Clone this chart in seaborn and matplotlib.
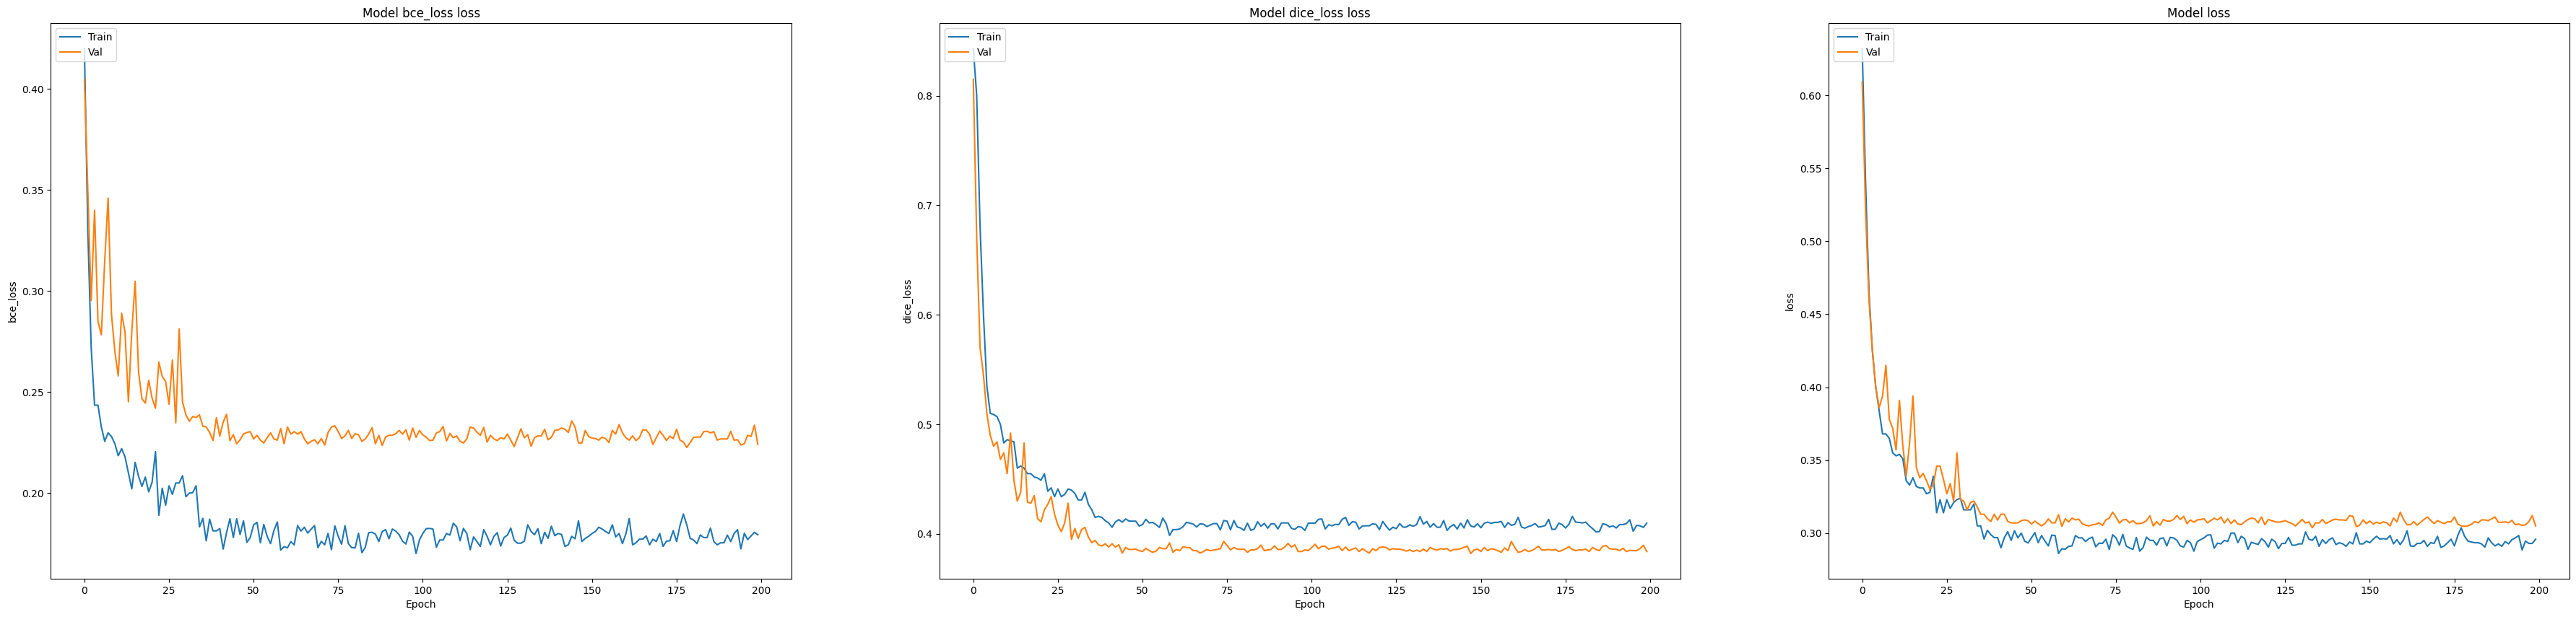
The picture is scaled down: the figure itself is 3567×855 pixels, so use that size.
import matplotlib
matplotlib.use('Agg')
import matplotlib.pyplot as plt
import seaborn as sns

# История обучения: 200 эпох
epochs = list(range(200))

bce_train = [
    .420, .330, .272, .2435, .2435, .2327, .2256, .2298, .2280, .2244,
    .2185, .2220, .2179, .2100, .2021, .2152, .2083, .2033, .2079, .2006,
    .2054, .2205, .1890, .2024, .1940, .2036, .1994, .2050, .2050, .2086,
    .1982, .2000, .2002, .2036, .1833, .1875, .1764, .1871, .1813, .1813,
    .1824, .1723, .1804, .1873, .1780, .1873, .1795, .1863, .1756, .1780,
    .1843, .1855, .1754, .1845, .1786, .1750, .1815, .1857, .1718, .1735,
    .1729, .1760, .1744, .1839, .1812, .1831, .1802, .1822, .1839, .1730,
    .1761, .1744, .1800, .1720, .1838, .1786, .1747, .1839, .1750, .1730,
    .1729, .1801, .1705, .1732, .1804, .1806, .1797, .1760, .1810, .1819,
    .1774, .1822, .1812, .1794, .1762, .1748, .1807, .1786, .1701, .1768,
    .1800, .1824, .1825, .1822, .1732, .1768, .1768, .1800, .1792, .1851,
    .1833, .1764, .1825, .1800, .1720, .1783, .1760, .1736, .1819, .1786,
    .1744, .1786, .1804, .1738, .1780, .1792, .1827, .1766, .1752, .1752,
    .1762, .1843, .1810, .1794, .1824, .1750, .1806, .1776, .1836, .1789,
    .1800, .1795, .1736, .1744, .1786, .1774, .1863, .1760, .1776, .1786,
    .1800, .1810, .1831, .1822, .1810, .1800, .1843, .1783, .1800, .1750,
    .1798, .1874, .1744, .1754, .1772, .1772, .1788, .1744, .1772, .1760,
    .1800, .1736, .1762, .1764, .1814, .1760, .1839, .1896, .1843, .1776,
    .1768, .1750, .1793, .1780, .1780, .1827, .1760, .1744, .1754, .1754,
    .1792, .1760, .1800, .1819, .1724, .1801, .1770, .1788, .1806, .1794,
]

bce_val = [
    .4046, .350, .2953, .340, .285, .2784, .315, .346, .2884, .270,
    .258, .289, .2797, .2452, .280, .3048, .260, .2467, .2445, .2558,
    .247, .242, .2648, .2577, .2552, .244, .2658, .2348, .2812, .245,
    .2387, .2355, .2379, .2374, .2387, .2331, .2327, .2300, .2260, .2373,
    .2282, .2351, .2390, .2260, .2289, .2244, .2264, .2292, .2300, .2304,
    .2268, .2286, .2262, .2248, .2274, .2298, .2268, .2262, .2319, .2244,
    .2327, .2292, .2304, .2292, .2304, .2268, .2244, .2256, .2264, .2244,
    .2270, .2238, .2300, .2327, .2333, .2304, .2270, .2283, .2310, .2270,
    .2294, .2288, .2256, .2268, .2292, .2324, .2244, .2286, .2236, .2277,
    .2286, .2286, .2294, .2310, .2292, .2313, .2262, .2322, .2276, .2310,
    .2288, .2277, .2260, .2262, .2298, .2304, .2330, .2258, .2295, .2274,
    .2283, .2256, .2248, .2268, .2327, .2322, .2301, .2286, .2325, .2252,
    .2286, .2268, .2260, .2274, .2268, .2292, .2262, .2230, .2274, .2318,
    .2274, .2289, .2232, .2274, .2283, .2283, .2316, .2264, .2276, .2310,
    .2313, .2322, .2316, .2300, .2357, .2327, .2248, .2248, .2310, .2280,
    .2272, .2270, .2262, .2277, .2270, .2250, .2310, .2292, .2339, .2298,
    .2274, .2262, .2283, .2260, .2274, .2313, .2312, .2292, .2241, .2274,
    .2307, .2286, .2260, .2282, .2270, .2316, .2262, .2252, .2226, .2250,
    .2276, .2277, .2277, .2304, .2306, .2298, .2304, .2262, .2268, .2268,
    .2268, .2306, .2262, .2264, .2238, .2244, .2286, .2280, .2336, .2241,
]

dice_train = [
    .843, .800, .680, .600, .535, .510, .509, .507, .500, .483,
    .486, .485, .484, .460, .462, .460, .455, .455, .452, .451,
    .449, .455, .439, .442, .434, .441, .434, .436, .441, .440,
    .437, .431, .431, .438, .427, .422, .415, .416, .415, .412,
    .410, .406, .411, .413, .4107, .4136, .4118, .4116, .4116, .4072,
    .4085, .4133, .4100, .4105, .4085, .4059, .4144, .4092, .3986, .4039,
    .4039, .4045, .4067, .4105, .4098, .4089, .4063, .4092, .4089, .4067,
    .4081, .4094, .4094, .4037, .4122, .4116, .4037, .4122, .4063, .4054,
    .4032, .4098, .4032, .4045, .4111, .4070, .4096, .4052, .4092, .4092,
    .4045, .4100, .4100, .4100, .4052, .4041, .4067, .4061, .4032, .4098,
    .4098, .4098, .4133, .4136, .4045, .4083, .4074, .4087, .4085, .4133,
    .4151, .4078, .4111, .4107, .4045, .4072, .4074, .4074, .4092, .4087,
    .4039, .4114, .4070, .4034, .4061, .4048, .4094, .4061, .4063, .4083,
    .4070, .4085, .4158, .4089, .4114, .4061, .4094, .4061, .4061, .4122,
    .4032, .4067, .4085, .4045, .4098, .4054, .4129, .4072, .4063, .4092,
    .4056, .4098, .4107, .4096, .4105, .4105, .4114, .4059, .4103, .4078,
    .4087, .4151, .4063, .4052, .4067, .4076, .4094, .4063, .4067, .4076,
    .4133, .4041, .4043, .4098, .4085, .4054, .4087, .4160, .4107, .4105,
    .4100, .4107, .4074, .4048, .4019, .4021, .4092, .4085, .4063, .4074,
    .4054, .4085, .4085, .4094, .4129, .4024, .4078, .4074, .4059, .4098,
]

dice_val = [
    .815, .670, .570, .545, .510, .490, .480, .484, .468, .474,
    .455, .492, .449, .430, .438, .483, .429, .428, .435, .414,
    .411, .422, .427, .434, .418, .408, .402, .410, .428, .395,
    .405, .396, .404, .406, .397, .392, .394, .390, .389, .391,
    .388, .391, .388, .390, .3825, .3876, .3858, .3858, .3861, .3847,
    .3839, .3869, .3847, .3832, .3843, .3876, .3865, .3865, .3918, .3832,
    .3858, .3847, .3883, .3876, .3874, .3847, .3847, .3825, .3839, .3858,
    .3847, .3852, .3858, .3865, .3931, .3894, .3854, .3876, .3861, .3858,
    .3861, .3832, .3854, .3854, .3865, .3898, .3847, .3854, .3858, .3891,
    .3858, .3858, .3880, .3913, .3880, .3900, .3839, .3839, .3854, .3847,
    .3876, .3905, .3865, .3887, .3887, .3861, .3869, .3876, .3887, .3847,
    .3880, .3847, .3861, .3872, .3839, .3865, .3843, .3825, .3865, .3847,
    .3876, .3880, .3876, .3854, .3865, .3861, .3861, .3854, .3843, .3854,
    .3839, .3852, .3839, .3861, .3839, .3876, .3861, .3852, .3865, .3861,
    .3865, .3843, .3858, .3858, .3865, .3878, .3887, .3821, .3854, .3861,
    .3839, .3876, .3847, .3865, .3858, .3847, .3832, .3872, .3847, .3931,
    .3876, .3832, .3839, .3858, .3839, .3847, .3865, .3887, .3854, .3854,
    .3858, .3852, .3858, .3839, .3850, .3865, .3883, .3858, .3847, .3854,
    .3854, .3861, .3839, .3876, .3858, .3847, .3887, .3894, .3865, .3861,
    .3861, .3847, .3869, .3839, .3850, .3847, .3847, .3865, .3896, .3839,
]

loss_train = [
    .632, .540, .465, .425, .400, .384, .368, .368, .365, .355,
    .353, .354, .351, .336, .333, .338, .332, .331, .331, .327,
    .328, .339, .314, .323, .314, .323, .317, .321, .323, .324,
    .316, .316, .316, .320, .305, .305, .296, .302, .299, .297,
    .297, .290, .297, .301, .2951, .3017, .2968, .3001, .2946, .2933,
    .2968, .3004, .2935, .2984, .2946, .2913, .2987, .2984, .2861, .2894,
    .2890, .2910, .2913, .2984, .2968, .2968, .2943, .2963, .2973, .2907,
    .2932, .2930, .2959, .2889, .2989, .2968, .2918, .2992, .2913, .2899,
    .2889, .2971, .2877, .2902, .2973, .2951, .2951, .2918, .2963, .2968,
    .2913, .2971, .2968, .2951, .2913, .2905, .2951, .2935, .2877, .2943,
    .2956, .2968, .2987, .2989, .2897, .2932, .2927, .2951, .2943, .3001,
    .3001, .2935, .2979, .2963, .2890, .2938, .2930, .2923, .2963, .2943,
    .2905, .2959, .2943, .2894, .2930, .2930, .2971, .2918, .2918, .2927,
    .2927, .3009, .2959, .2951, .2979, .2910, .2956, .2930, .2956, .2968,
    .2922, .2935, .2927, .2910, .2940, .2927, .3004, .2927, .2927, .2946,
    .2935, .2959, .2979, .2959, .2963, .2959, .2984, .2927, .2956, .2922,
    .2956, .3017, .2913, .2910, .2930, .2930, .2951, .2910, .2935, .2930,
    .2979, .2902, .2913, .2935, .2959, .2913, .2984, .3038, .2979, .2946,
    .2940, .2935, .2935, .2927, .2905, .2968, .2935, .2913, .2927, .2910,
    .2943, .2927, .2956, .2968, .2984, .2885, .2946, .2930, .2930, .2959,
]

loss_val = [
    .609, .520, .460, .425, .400, .386, .394, .415, .378, .372,
    .357, .391, .360, .339, .362, .394, .345, .338, .341, .336,
    .330, .333, .346, .346, .337, .327, .334, .322, .355, .323,
    .322, .316, .321, .322, .318, .313, .313, .310, .308, .313,
    .309, .313, .313, .308, .3071, .3070, .3071, .3086, .3091, .3086,
    .3063, .3083, .3066, .3050, .3066, .3098, .3071, .3071, .3127, .3047,
    .3099, .3078, .3103, .3091, .3096, .3066, .3055, .3050, .3058, .3061,
    .3071, .3053, .3091, .3104, .3144, .3111, .3070, .3091, .3094, .3071,
    .3086, .3066, .3066, .3071, .3086, .3119, .3050, .3079, .3055, .3094,
    .3083, .3083, .3094, .3121, .3094, .3116, .3066, .3091, .3075, .3091,
    .3094, .3099, .3071, .3086, .3103, .3091, .3111, .3070, .3099, .3066,
    .3091, .3063, .3058, .3078, .3094, .3103, .3099, .3071, .3111, .3058,
    .3094, .3086, .3079, .3075, .3079, .3086, .3075, .3066, .3050, .3071,
    .3094, .3070, .3078, .3038, .3071, .3070, .3094, .3066, .3078, .3091,
    .3096, .3091, .3091, .3088, .3121, .3116, .3045, .3055, .3091, .3066,
    .3083, .3063, .3075, .3066, .3078, .3071, .3050, .3104, .3078, .3144,
    .3094, .3058, .3058, .3079, .3055, .3075, .3094, .3111, .3088, .3066,
    .3086, .3075, .3066, .3078, .3078, .3111, .3063, .3050, .3047, .3050,
    .3061, .3079, .3071, .3091, .3091, .3086, .3099, .3111, .3075, .3075,
    .3078, .3071, .3088, .3058, .3063, .3053, .3058, .3079, .3121, .3050,
]

titles = ['Model bce_loss loss', 'Model dice_loss loss', 'Model loss']
ylabels = ['bce_loss', 'dice_loss', 'loss']
series = [(bce_train, bce_val), (dice_train, dice_val), (loss_train, loss_val)]

for tr, va in series:
    assert len(tr) == len(epochs) and len(va) == len(epochs), (len(tr), len(va))

fig, axes = plt.subplots(1, 3, figsize=(35.67, 8.55), dpi=100)
fig.subplots_adjust(left=0.0197, right=0.9974, bottom=0.062, top=0.9622, wspace=0.2)

for ax, title, ylab, (tr, va) in zip(axes, titles, ylabels, series):
    sns.lineplot(x=epochs, y=tr, ax=ax, color='C0', label='Train')
    sns.lineplot(x=epochs, y=va, ax=ax, color='C1', label='Val')
    ax.set_title(title)
    ax.set_ylabel(ylab)
    ax.set_xlabel('Epoch')
    ax.legend(loc='upper left')

fig.savefig('out.png', dpi=100)
